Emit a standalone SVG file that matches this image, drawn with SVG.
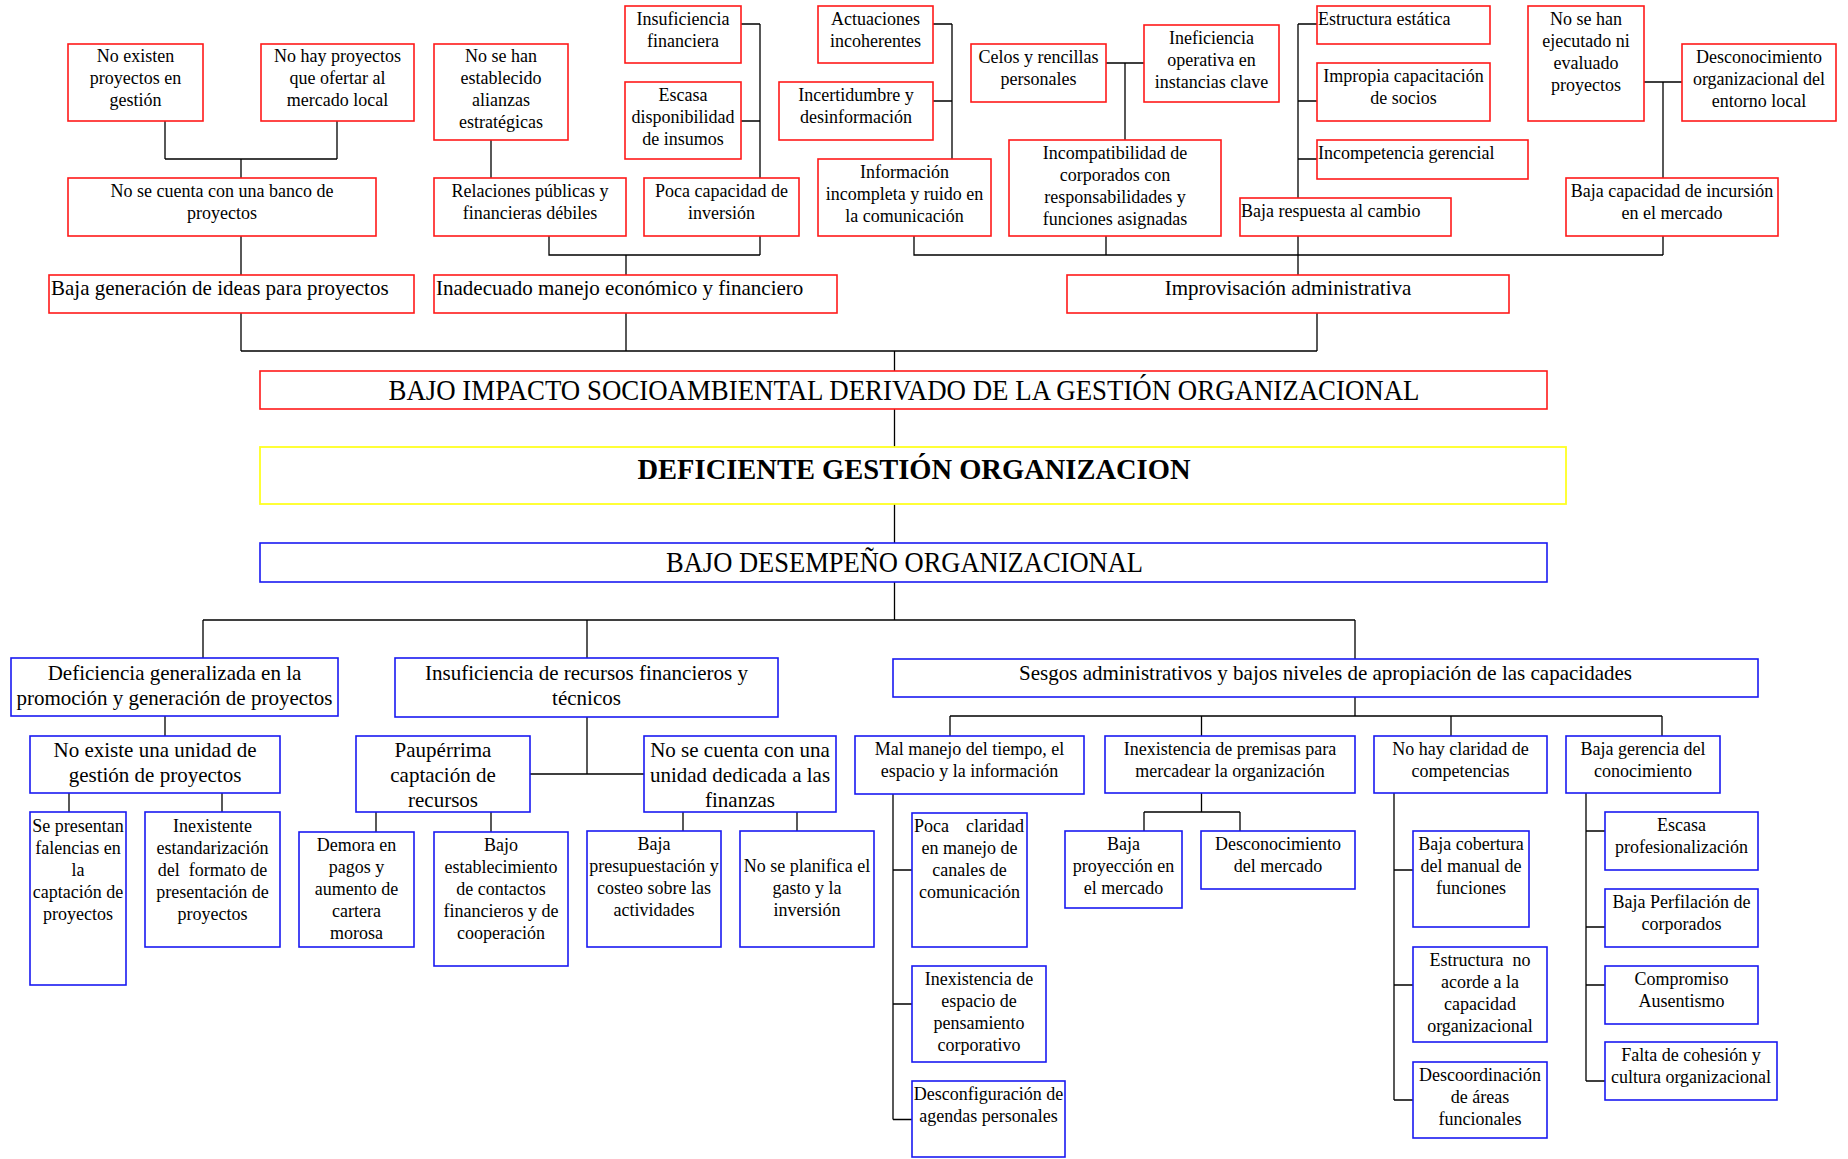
<svg xmlns="http://www.w3.org/2000/svg" width="1848" height="1159" viewBox="0 0 1848 1159">
<style>
.r{fill:#fff;stroke:#ff1a1a;stroke-width:1.6}
.b{fill:#fff;stroke:#1a1af2;stroke-width:1.6}
.y{fill:#fff;stroke:#ffff22;stroke-width:1.8}
.c{fill:none;stroke:#000;stroke-width:1.3}
text{font-family:"Liberation Serif","Times New Roman",serif;font-size:18px;fill:#000;text-anchor:middle}
.m{font-size:21px}
.l{text-anchor:start}
.h{font-family:"Liberation Serif","Times New Roman",serif;font-size:29px}
</style>
<rect width="1848" height="1159" fill="#fff"/>
<g id="connectors" class="c">
<path d="M165,121V159M337,121V159M165,159H337M241,159V178M241,236V275M241,313V351"/>
<path d="M491,140V178M549,236V255H760M741,24H760M741,121H760M760,24V178M760,236V255M626,255V275M626,313V351"/>
<path d="M933,24H952M933,101H952M952,24V159"/>
<path d="M1106,63H1144M1125,63V140"/>
<path d="M914,236V255H1663M1106,236V255"/>
<path d="M1298,24V275M1298,24H1317M1298,101H1317M1298,159H1317M1317,313V351"/>
<path d="M1644,82H1682M1663,82V178M1663,236V255"/>
<path d="M241,351H1317M894.5,351V620"/>
<path d="M203,620H1355M203,620V658M587,620V658M1355,620V659"/>
<path d="M165,716V736M69,793V812M222,793V812"/>
<path d="M587,717V774M530,774H644M376,812V832M491,812V832M683,812V831M797,812V831"/>
<path d="M1355,697V716M950,716H1662M950,716V736M1201.5,716V736M1451,716V736M1662,716V736"/>
<path d="M893,794V1119.5M893,870H912M893,1004H912M893,1119.5H912"/>
<path d="M1201.5,793V812M1144,812H1240M1144,812V831M1240,812V831"/>
<path d="M1394,793V1100M1394,870H1413M1394,985H1413M1394,1100H1413"/>
<path d="M1586,793V1081M1586,831H1605M1586,927H1605M1586,985H1605M1586,1081H1605"/>
</g>

<g id="n-no-existen"><rect class="r" x="68" y="44" width="135" height="77"/><text x="135.5" y="62"><tspan x="135.5">No existen</tspan><tspan x="135.5" dy="22">proyectos en</tspan><tspan x="135.5" dy="22">gestión</tspan></text></g>
<g id="n-no-hay-proyectos"><rect class="r" x="261" y="44" width="153" height="77"/><text x="337.5" y="62"><tspan x="337.5">No hay proyectos</tspan><tspan x="337.5" dy="22">que ofertar al</tspan><tspan x="337.5" dy="22">mercado local</tspan></text></g>
<g id="n-alianzas"><rect class="r" x="434" y="44" width="134" height="96"/><text x="501" y="62"><tspan x="501">No se han</tspan><tspan x="501" dy="22">establecido</tspan><tspan x="501" dy="22">alianzas</tspan><tspan x="501" dy="22">estratégicas</tspan></text></g>
<g id="n-banco"><rect class="r" x="68" y="178" width="308" height="58"/><text x="222" y="197"><tspan x="222">No se cuenta con una banco de</tspan><tspan x="222" dy="22">proyectos</tspan></text></g>
<g id="n-relaciones"><rect class="r" x="434" y="178" width="192" height="58"/><text x="530" y="197"><tspan x="530">Relaciones públicas y</tspan><tspan x="530" dy="22">financieras débiles</tspan></text></g>
<g id="n-baja-generacion"><rect class="r" x="49" y="275" width="365" height="38"/><text class="m l" x="51" y="295">Baja generación de ideas para proyectos</text></g>
<g id="n-inadecuado"><rect class="r" x="434" y="275" width="403" height="38"/><text class="m l" x="436" y="295">Inadecuado manejo económico y financiero</text></g>
<g id="n-insuficiencia-fin"><rect class="r" x="625" y="6" width="116" height="57"/><text x="683" y="25"><tspan x="683">Insuficiencia</tspan><tspan x="683" dy="22">financiera</tspan></text></g>
<g id="n-escasa-insumos"><rect class="r" x="625" y="82" width="116" height="77"/><text x="683" y="101"><tspan x="683">Escasa</tspan><tspan x="683" dy="22">disponibilidad</tspan><tspan x="683" dy="22">de insumos</tspan></text></g>
<g id="n-poca-inversion"><rect class="r" x="644" y="178" width="155" height="58"/><text x="721.5" y="197"><tspan x="721.5">Poca capacidad de</tspan><tspan x="721.5" dy="22">inversión</tspan></text></g>
<g id="n-actuaciones"><rect class="r" x="818" y="6" width="115" height="57"/><text x="875.5" y="25"><tspan x="875.5">Actuaciones</tspan><tspan x="875.5" dy="22">incoherentes</tspan></text></g>
<g id="n-incertidumbre"><rect class="r" x="779" y="82" width="154" height="58"/><text x="856" y="101"><tspan x="856">Incertidumbre y</tspan><tspan x="856" dy="22">desinformación</tspan></text></g>
<g id="n-informacion"><rect class="r" x="818" y="159" width="173" height="77"/><text x="904.5" y="178"><tspan x="904.5">Información</tspan><tspan x="904.5" dy="22">incompleta y ruido en</tspan><tspan x="904.5" dy="22">la comunicación</tspan></text></g>
<g id="n-celos"><rect class="r" x="971" y="44" width="135" height="58"/><text x="1038.5" y="63"><tspan x="1038.5">Celos y rencillas</tspan><tspan x="1038.5" dy="22">personales</tspan></text></g>
<g id="n-ineficiencia"><rect class="r" x="1144" y="25" width="135" height="77"/><text x="1211.5" y="44"><tspan x="1211.5">Ineficiencia</tspan><tspan x="1211.5" dy="22">operativa en</tspan><tspan x="1211.5" dy="22">instancias clave</tspan></text></g>
<g id="n-incompatibilidad"><rect class="r" x="1009" y="140" width="212" height="96"/><text x="1115" y="159"><tspan x="1115">Incompatibilidad de</tspan><tspan x="1115" dy="22">corporados con</tspan><tspan x="1115" dy="22">responsabilidades y</tspan><tspan x="1115" dy="22">funciones asignadas</tspan></text></g>
<g id="n-estructura-estatica"><rect class="r" x="1317" y="6" width="173" height="38"/><text class="l" x="1318" y="25">Estructura estática</text></g>
<g id="n-impropia"><rect class="r" x="1317" y="63" width="173" height="58"/><text x="1403.5" y="82"><tspan x="1403.5">Impropia capacitación</tspan><tspan x="1403.5" dy="22">de socios</tspan></text></g>
<g id="n-incompetencia"><rect class="r" x="1317" y="140" width="211" height="39"/><text class="l" x="1318" y="159">Incompetencia gerencial</text></g>
<g id="n-baja-respuesta"><rect class="r" x="1240" y="198" width="211" height="38"/><text class="l" x="1241" y="217">Baja respuesta al cambio</text></g>
<g id="n-improvisacion"><rect class="r" x="1067" y="275" width="442" height="38"/><text class="m" x="1288" y="295">Improvisación administrativa</text></g>
<g id="n-no-ejecutado"><rect class="r" x="1528" y="6" width="116" height="115"/><text x="1586" y="25"><tspan x="1586">No se han</tspan><tspan x="1586" dy="22">ejecutado ni</tspan><tspan x="1586" dy="22">evaluado</tspan><tspan x="1586" dy="22">proyectos</tspan></text></g>
<g id="n-desconocimiento-org"><rect class="r" x="1682" y="44" width="154" height="77"/><text x="1759" y="63"><tspan x="1759">Desconocimiento</tspan><tspan x="1759" dy="22">organizacional del</tspan><tspan x="1759" dy="22">entorno local</tspan></text></g>
<g id="n-baja-incursion"><rect class="r" x="1566" y="178" width="212" height="58"/><text x="1672" y="197"><tspan x="1672">Baja capacidad de incursión</tspan><tspan x="1672" dy="22">en el mercado</tspan></text></g>

<g id="n-bajo-impacto"><rect class="r" x="260" y="371" width="1287" height="38"/><text class="h" x="904" y="399.5" textLength="1031" lengthAdjust="spacingAndGlyphs">BAJO IMPACTO SOCIOAMBIENTAL DERIVADO DE LA GESTIÓN ORGANIZACIONAL</text></g>
<g id="n-deficiente"><rect class="y" x="260" y="447" width="1306" height="57"/><text class="h" x="914" y="478.5" font-weight="bold" font-size="32" textLength="553" lengthAdjust="spacingAndGlyphs">DEFICIENTE GESTIÓN ORGANIZACION</text></g>
<g id="n-bajo-desempeno"><rect class="b" x="260" y="543" width="1287" height="39"/><text class="h" x="904.5" y="572" textLength="477" lengthAdjust="spacingAndGlyphs">BAJO DESEMPEÑO ORGANIZACIONAL</text></g>

<g id="n-deficiencia-gen"><rect class="b" x="11" y="658" width="327" height="58"/><text class="m" x="174.5" y="680"><tspan x="174.5">Deficiencia generalizada en la</tspan><tspan x="174.5" dy="25">promoción y generación de proyectos</tspan></text></g>
<g id="n-insuficiencia-rec"><rect class="b" x="395" y="658" width="383" height="59"/><text class="m" x="586.5" y="680"><tspan x="586.5">Insuficiencia de recursos financieros y</tspan><tspan x="586.5" dy="25">técnicos</tspan></text></g>
<g id="n-sesgos"><rect class="b" x="893" y="659" width="865" height="38"/><text class="m" x="1325.5" y="680">Sesgos administrativos y bajos niveles de apropiación de las capacidades</text></g>
<g id="n-no-existe-unidad"><rect class="b" x="30" y="736" width="250" height="57"/><text class="m" x="155" y="757"><tspan x="155">No existe una unidad de</tspan><tspan x="155" dy="25">gestión de proyectos</tspan></text></g>
<g id="n-pauperrima"><rect class="b" x="356" y="736" width="174" height="76"/><text class="m" x="443" y="757"><tspan x="443">Paupérrima</tspan><tspan x="443" dy="25">captación de</tspan><tspan x="443" dy="25">recursos</tspan></text></g>
<g id="n-unidad-finanzas"><rect class="b" x="644" y="736" width="192" height="76"/><text class="m" x="740" y="757"><tspan x="740">No se cuenta con una</tspan><tspan x="740" dy="25">unidad dedicada a las</tspan><tspan x="740" dy="25">finanzas</tspan></text></g>
<g id="n-falencias"><rect class="b" x="30" y="812" width="96" height="173"/><text x="78" y="832"><tspan x="78">Se presentan</tspan><tspan x="78" dy="22">falencias en</tspan><tspan x="78" dy="22">la</tspan><tspan x="78" dy="22">captación de</tspan><tspan x="78" dy="22">proyectos</tspan></text></g>
<g id="n-estandarizacion"><rect class="b" x="145" y="812" width="135" height="135"/><text x="212.5" y="832" xml:space="preserve"><tspan x="212.5">Inexistente</tspan><tspan x="212.5" dy="22">estandarización</tspan><tspan x="212.5" dy="22">del  formato de</tspan><tspan x="212.5" dy="22">presentación de</tspan><tspan x="212.5" dy="22">proyectos</tspan></text></g>
<g id="n-demora"><rect class="b" x="299" y="832" width="115" height="115"/><text x="356.5" y="851"><tspan x="356.5">Demora en</tspan><tspan x="356.5" dy="22">pagos y</tspan><tspan x="356.5" dy="22">aumento de</tspan><tspan x="356.5" dy="22">cartera</tspan><tspan x="356.5" dy="22">morosa</tspan></text></g>
<g id="n-bajo-establecimiento"><rect class="b" x="434" y="832" width="134" height="134"/><text x="501" y="851"><tspan x="501">Bajo</tspan><tspan x="501" dy="22">establecimiento</tspan><tspan x="501" dy="22">de contactos</tspan><tspan x="501" dy="22">financieros y de</tspan><tspan x="501" dy="22">cooperación</tspan></text></g>
<g id="n-presupuestacion"><rect class="b" x="587" y="831" width="134" height="116"/><text x="654" y="850"><tspan x="654">Baja</tspan><tspan x="654" dy="22">presupuestación y</tspan><tspan x="654" dy="22">costeo sobre las</tspan><tspan x="654" dy="22">actividades</tspan></text></g>
<g id="n-no-planifica"><rect class="b" x="740" y="831" width="134" height="116"/><text x="807" y="872"><tspan x="807">No se planifica el</tspan><tspan x="807" dy="22">gasto y la</tspan><tspan x="807" dy="22">inversión</tspan></text></g>
<g id="n-mal-manejo"><rect class="b" x="855" y="736" width="229" height="58"/><text x="969.5" y="755"><tspan x="969.5">Mal manejo del tiempo, el</tspan><tspan x="969.5" dy="22">espacio y la información</tspan></text></g>
<g id="n-poca-claridad"><rect class="b" x="912" y="813" width="115" height="134"/><text x="969.5" y="832"><tspan x="914" text-anchor="start">Poca</tspan><tspan x="1024" text-anchor="end">claridad</tspan><tspan x="969.5" dy="22">en manejo de</tspan><tspan x="969.5" dy="22">canales de</tspan><tspan x="969.5" dy="22">comunicación</tspan></text></g>
<g id="n-espacio-pensamiento"><rect class="b" x="912" y="966" width="134" height="96"/><text x="979" y="985"><tspan x="979">Inexistencia de</tspan><tspan x="979" dy="22">espacio de</tspan><tspan x="979" dy="22">pensamiento</tspan><tspan x="979" dy="22">corporativo</tspan></text></g>
<g id="n-desconfiguracion"><rect class="b" x="912" y="1081" width="153" height="76"/><text x="988.5" y="1100"><tspan x="988.5">Desconfiguración de</tspan><tspan x="988.5" dy="22">agendas personales</tspan></text></g>
<g id="n-premisas"><rect class="b" x="1105" y="736" width="250" height="57"/><text x="1230" y="755"><tspan x="1230">Inexistencia de premisas para</tspan><tspan x="1230" dy="22">mercadear la organización</tspan></text></g>
<g id="n-baja-proyeccion"><rect class="b" x="1065" y="831" width="117" height="77"/><text x="1123.5" y="850"><tspan x="1123.5">Baja</tspan><tspan x="1123.5" dy="22">proyección en</tspan><tspan x="1123.5" dy="22">el mercado</tspan></text></g>
<g id="n-desconocimiento-mercado"><rect class="b" x="1201" y="831" width="154" height="58"/><text x="1278" y="850"><tspan x="1278">Desconocimiento</tspan><tspan x="1278" dy="22">del mercado</tspan></text></g>
<g id="n-claridad-competencias"><rect class="b" x="1374" y="736" width="173" height="57"/><text x="1460.5" y="755"><tspan x="1460.5">No hay claridad de</tspan><tspan x="1460.5" dy="22">competencias</tspan></text></g>
<g id="n-baja-cobertura"><rect class="b" x="1413" y="831" width="116" height="96"/><text x="1471" y="850"><tspan x="1471">Baja cobertura</tspan><tspan x="1471" dy="22">del manual de</tspan><tspan x="1471" dy="22">funciones</tspan></text></g>
<g id="n-estructura-no-acorde"><rect class="b" x="1413" y="947" width="134" height="95"/><text x="1480" y="966" xml:space="preserve"><tspan x="1480">Estructura  no</tspan><tspan x="1480" dy="22">acorde a la</tspan><tspan x="1480" dy="22">capacidad</tspan><tspan x="1480" dy="22">organizacional</tspan></text></g>
<g id="n-descoordinacion"><rect class="b" x="1413" y="1062" width="134" height="76"/><text x="1480" y="1081"><tspan x="1480">Descoordinación</tspan><tspan x="1480" dy="22">de áreas</tspan><tspan x="1480" dy="22">funcionales</tspan></text></g>
<g id="n-gerencia-conocimiento"><rect class="b" x="1566" y="736" width="154" height="57"/><text x="1643" y="755"><tspan x="1643">Baja gerencia del</tspan><tspan x="1643" dy="22">conocimiento</tspan></text></g>
<g id="n-escasa-prof"><rect class="b" x="1605" y="812" width="153" height="58"/><text x="1681.5" y="831"><tspan x="1681.5">Escasa</tspan><tspan x="1681.5" dy="22">profesionalización</tspan></text></g>
<g id="n-perfilacion"><rect class="b" x="1605" y="889" width="153" height="58"/><text x="1681.5" y="908"><tspan x="1681.5">Baja Perfilación de</tspan><tspan x="1681.5" dy="22">corporados</tspan></text></g>
<g id="n-compromiso"><rect class="b" x="1605" y="966" width="153" height="58"/><text x="1681.5" y="985"><tspan x="1681.5">Compromiso</tspan><tspan x="1681.5" dy="22">Ausentismo</tspan></text></g>
<g id="n-cohesion"><rect class="b" x="1605" y="1042" width="172" height="58"/><text x="1691" y="1061"><tspan x="1691">Falta de cohesión y</tspan><tspan x="1691" dy="22">cultura organizacional</tspan></text></g>
</svg>
